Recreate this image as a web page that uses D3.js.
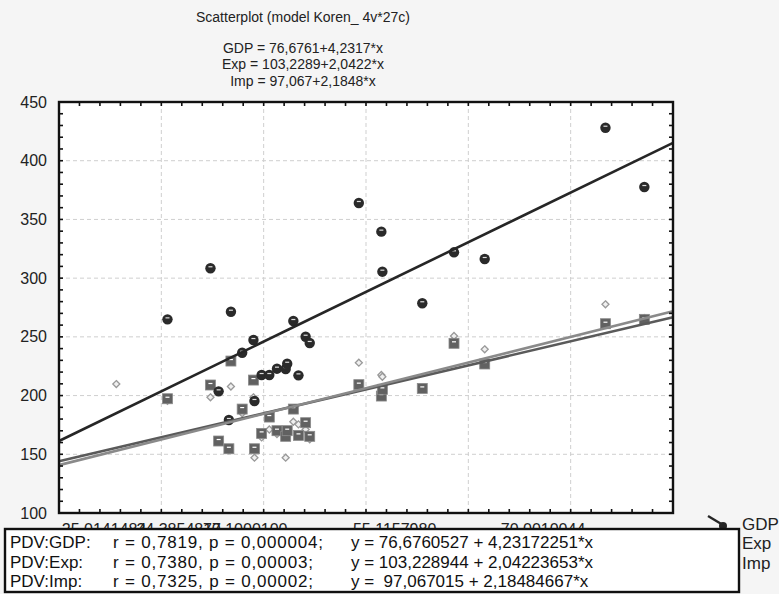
<!DOCTYPE html>
<html>
<head>
<meta charset="utf-8">
<script src="https://cdn.jsdelivr.net/npm/d3@7"></script>
<style>
  body { margin: 0; background: #f5f5f5; }
  svg { display: block; font-family: 'Liberation Sans', Arial, sans-serif; }
</style>
</head>
<body>
<div id="chart"></div>
<script>
// chart values
var titleLines = [
  'Scatterplot (model Koren_ 4v*27c)',
  'GDP = 76,6761+4,2317*x',
  'Exp = 103,2289+2,0422*x',
  'Imp = 97,067+2,1848*x'
]
var seriesNames = ['GDP', 'Exp', 'Imp']
var intercepts = [76.6761, 103.2289, 97.067]
var slopes = [4.2317, 2.0422, 2.1848]

var pdv = [30.6, 34.8, 36.8, 39.0, 37.9, 35.6, 39.1, 36.6, 39.8, 40.55, 41.3, 42.15, 42.3,
  42.9, 43.4, 44.1, 44.5, 49.3, 51.5, 51.6, 58.6, 61.6, 55.5, 73.4, 77.2, 25.6]
var gdp = [264.9, 308.4, 271.4, 247.3, 236.5, 203.6, 195.4, 179.2, 217.5, 217.5, 222.9, 222.6, 227.1,
  263.5, 217.2, 250.1, 244.8, 364.0, 339.6, 305.5, 322.0, 316.3, 278.6, 428.1, 377.6, null]
var exp = [197.3, 209.0, 229.4, 213.2, 188.5, 161.3, 154.7, 154.7, 167.8, 181.7, 170.1, 165.3, 170.1,
  188.5, 166.1, 176.9, 165.3, 209.3, 199.6, 205.3, 244.5, 226.9, 206.1, 261.2, 264.9, null]
var imp = [195.6, 198.5, 207.7, 198.5, 184.9, 161.5, 147.1, 153.5, 164.4, 171.1, 167.3, 147.1, 168.5,
  177.7, 175.5, 171.1, 162.7, 228.0, 217.5, 216.0, 250.7, 239.4, 206.0, 277.7, 266.0, 209.8]

var yTicks = [100, 150, 200, 250, 300, 350, 400, 450]
var xGrid = [30, 40, 50, 60, 70]
var xLabelPos = [24.4, 31.7, 38.2, 52.8, 67.3]
var xLabels = ['25,0141484', '34,3854817', '70,1000100', '55,1157980', '70,0010044']

var statRows = [
  ['PDV:GDP:', 'r = 0,7819, p = 0,000004;', 'y = 76,6760527 + 4,23172251*x'],
  ['PDV:Exp:', 'r = 0,7380, p = 0,00003;', 'y = 103,228944 + 2,04223653*x'],
  ['PDV:Imp:', 'r = 0,7325, p = 0,00002;', 'y =  97,067015 + 2,18484667*x']
]

var width = 779
var height = 594
var plot = { left: 59, right: 673, top: 102, bottom: 513 }

var svg = d3
  .select('#chart')
  .append('svg')
  .attr('width', width)
  .attr('height', height)

svg.append('rect').attr('width', width).attr('height', height).attr('fill', '#f5f5f5')

var x = d3.scaleLinear().domain([20, 80]).range([plot.left, plot.right])
var y = d3.scaleLinear().domain([100, 450]).range([plot.bottom, plot.top])

// title block
svg
  .selectAll('.title')
  .data(titleLines)
  .enter()
  .append('text')
  .attr('x', 303)
  .attr('y', (d, i) => (i === 0 ? 22 : 36 + i * 16.5))
  .attr('text-anchor', 'middle')
  .attr('font-size', 14)
  .attr('fill', '#222')
  .text(d => d)

// plot background
svg
  .append('rect')
  .attr('x', plot.left)
  .attr('y', plot.top)
  .attr('width', plot.right - plot.left)
  .attr('height', plot.bottom - plot.top)
  .attr('fill', '#fff')

// grid
svg
  .selectAll('.hgrid')
  .data(yTicks.slice(1, -1))
  .enter()
  .append('line')
  .attr('x1', plot.left)
  .attr('x2', plot.right)
  .attr('y1', d => y(d))
  .attr('y2', d => y(d))
  .attr('stroke', '#cfcfcf')
  .attr('stroke-dasharray', '4,3')

svg
  .selectAll('.vgrid')
  .data(xGrid)
  .enter()
  .append('line')
  .attr('x1', d => x(d))
  .attr('x2', d => x(d))
  .attr('y1', plot.top)
  .attr('y2', plot.bottom)
  .attr('stroke', '#cfcfcf')
  .attr('stroke-dasharray', '4,3')

// markers
var cases = pdv.map((p, i) => ({ x: p, gdp: gdp[i], exp: exp[i], imp: imp[i] }))

svg
  .selectAll('.imp')
  .data(cases.filter(d => d.imp != null))
  .enter()
  .append('path')
  .attr('d', 'M0,-3.5L3.5,0L0,3.5L-3.5,0Z')
  .attr('transform', d => 'translate(' + x(d.x) + ',' + y(d.imp) + ')')
  .attr('fill', '#f0f0f0')
  .attr('stroke', '#999')
  .attr('stroke-width', 1.3)

var sq = svg
  .selectAll('.exp')
  .data(cases.filter(d => d.exp != null))
  .enter()
  .append('g')
  .attr('transform', d => 'translate(' + x(d.x) + ',' + y(d.exp) + ')')
sq.append('rect').attr('x', -5).attr('y', -5).attr('width', 10).attr('height', 10)
  .attr('fill', '#616161').attr('stroke', '#8a8a8a').attr('stroke-width', 0.8)
sq.append('line').attr('x1', -2).attr('x2', 2).attr('y1', -1.5).attr('y2', -1.5)
  .attr('stroke', '#fff').attr('stroke-width', 1.2)

var circ = svg
  .selectAll('.gdp')
  .data(cases.filter(d => d.gdp != null))
  .enter()
  .append('g')
  .attr('transform', d => 'translate(' + x(d.x) + ',' + y(d.gdp) + ')')
circ.append('circle').attr('r', 5.2).attr('fill', '#2a2a2a')
circ.append('line').attr('x1', -2).attr('x2', 2).attr('y1', -1.5).attr('y2', -1.5)
  .attr('stroke', '#ddd').attr('stroke-width', 1.2)

// fitted lines
var lineColors = ['#262626', '#5a5a5a', '#8a8a8a']
seriesNames.forEach((name, i) => {
  var ends = x.domain().map(v => [v, intercepts[i] + slopes[i] * v])
  svg
    .append('path')
    .datum(ends)
    .attr('d', d3.line().x(d => x(d[0])).y(d => y(d[1])))
    .attr('stroke', lineColors[i])
    .attr('stroke-width', 2.6)
    .attr('fill', 'none')
})

// inner ticks
var xMinor = d3.range(20, 80.01, 2)
var yMinor = d3.range(100, 450.01, 10)
var ticks = svg.append('g').attr('stroke', '#111').attr('stroke-width', 1.6)
xMinor.forEach(v => {
  ticks.append('line').attr('x1', x(v)).attr('x2', x(v)).attr('y1', plot.bottom).attr('y2', plot.bottom - 4)
  ticks.append('line').attr('x1', x(v)).attr('x2', x(v)).attr('y1', plot.top).attr('y2', plot.top + 4)
})
yMinor.forEach(v => {
  ticks.append('line').attr('x1', plot.left).attr('x2', plot.left + 4).attr('y1', y(v)).attr('y2', y(v))
  ticks.append('line').attr('x1', plot.right).attr('x2', plot.right - 4).attr('y1', y(v)).attr('y2', y(v))
})

// frame
svg
  .append('rect')
  .attr('x', plot.left)
  .attr('y', plot.top)
  .attr('width', plot.right - plot.left)
  .attr('height', plot.bottom - plot.top)
  .attr('fill', 'none')
  .attr('stroke', '#111')
  .attr('stroke-width', 2.4)

// y axis labels
var yAxis = d3.axisLeft(y).tickValues(yTicks).tickSize(0).tickPadding(12)
svg
  .append('g')
  .attr('class', 'axis y-axis')
  .attr('transform', 'translate(' + plot.left + ',0)')
  .call(yAxis)
  .call(g => g.select('.domain').remove())
  .selectAll('text')
  .attr('font-size', 16)
  .attr('font-family', "'Liberation Sans', Arial, sans-serif")
  .attr('fill', '#222')

// x labels (mostly hidden behind stats box, they overlap in the original too)
svg
  .selectAll('.xlab')
  .data(xLabels)
  .enter()
  .append('text')
  .attr('x', (d, i) => x(xLabelPos[i]))
  .attr('y', 535)
  .attr('text-anchor', 'middle')
  .attr('font-size', 16)
  .attr('fill', '#222')
  .text(d => d)

// legend at right (partly covered)
var legY = [530, 549, 569]
seriesNames.forEach((name, i) => {
  svg.append('line').attr('x1', 708).attr('y1', legY[i] - 14).attr('x2', 723).attr('y2', legY[i] - 5)
    .attr('stroke', lineColors[i]).attr('stroke-width', 2.4)
  svg.append('circle').attr('cx', 723).attr('cy', legY[i] - 4).attr('r', 4).attr('fill', lineColors[i])
  svg.append('text').attr('x', 742).attr('y', legY[i]).attr('font-size', 17).attr('fill', '#222').text(name)
})

// stats box
svg
  .append('rect')
  .attr('x', 5)
  .attr('y', 529)
  .attr('width', 734)
  .attr('height', 63)
  .attr('fill', '#fff')
  .attr('stroke', '#111')
  .attr('stroke-width', 2.4)

var colX = [10, 113, 351]
var rWidths = [210, 200, 200]
statRows.forEach((row, i) => {
  row.forEach((txt, j) => {
    var t = svg
      .append('text')
      .attr('x', colX[j])
      .attr('y', 548 + i * 19.5)
      .attr('font-size', 17)
      .attr('fill', '#111')
      .attr('xml:space', 'preserve')
      .style('white-space', 'pre')
      .text(txt)
    if (j === 1) t.attr('textLength', rWidths[i]).attr('lengthAdjust', 'spacing')
  })
})
</script>
</body>
</html>
